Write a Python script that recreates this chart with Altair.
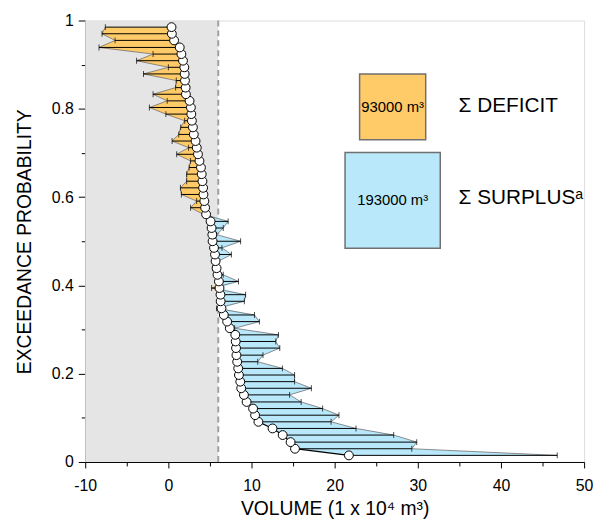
import altair as alt
import pandas as pd

# ---- data ----
# exceedance probability of each ranked event (top to bottom)
prob = [0.985, 0.970, 0.955, 0.939, 0.924, 0.909, 0.894, 0.879, 0.864, 0.848,
        0.833, 0.818, 0.803, 0.788, 0.773, 0.758, 0.742, 0.727, 0.712, 0.697,
        0.682, 0.667, 0.652, 0.636, 0.621, 0.606, 0.591, 0.576, 0.561, 0.545,
        0.530, 0.515, 0.500, 0.485, 0.470, 0.455, 0.439, 0.424, 0.409, 0.394,
        0.379, 0.364, 0.348, 0.333, 0.318, 0.303, 0.288, 0.273, 0.258, 0.242,
        0.227, 0.212, 0.197, 0.182, 0.167, 0.152, 0.136, 0.121, 0.106, 0.091,
        0.076, 0.061, 0.045, 0.030, 0.015]
# volume at the circles (1 x 10^4 m3)
circle_vol = [0.38, 0.42, 0.69, 1.37, 1.57, 1.76, 1.92, 1.96, 2.00, 2.08,
              2.11, 2.55, 2.71, 2.76, 2.83, 2.95, 3.06, 3.27, 3.42, 3.56,
              3.74, 3.92, 4.01, 4.10, 4.18, 4.22, 4.33, 4.42, 4.54, 5.08,
              5.20, 5.29, 5.32, 5.49, 5.61, 5.68, 5.80, 5.91, 6.08, 6.15,
              6.27, 6.29, 6.39, 6.67, 7.07, 7.39, 8.05, 8.10, 8.14, 8.19,
              8.28, 8.40, 8.49, 8.65, 8.76, 9.09, 9.41, 10.19, 10.43, 10.83,
              12.53, 13.75, 14.70, 15.23, 21.71]
# volume at the end of each horizontal bar
end_vol = [-7.58, -7.98, -6.41, -8.34, -1.84, -3.82, 0.00, -2.99, 0.95, 0.87,
           -1.84, -0.14, -2.28, -0.30, 1.96, 1.48, 1.25, 0.45, 2.43, 1.00,
           2.67, 2.50, 2.20, 2.20, 1.45, 1.57, 3.40, 2.67, 4.20, 7.19,
           6.60, 5.80, 8.69, 6.45, 7.58, 6.05, 5.32, 6.60, 8.43, 5.20,
           9.29, 9.14, 5.80, 10.36, 10.95, 7.98, 13.24, 12.92, 13.40, 11.38,
           10.75, 13.72, 15.18, 15.18, 17.20, 14.58, 15.97, 18.55, 20.52, 19.57,
           22.57, 27.10, 29.87, 29.28, 46.77]

shade_from, shade_to = -10, 6      # grey band and dashed threshold
deficit_label = "93000 m³"
surplus_label = "193000 m³"

df = pd.DataFrame({"p": prob, "v": circle_vol, "e": end_vol})
df["lo"] = df[["v", "e"]].min(axis=1)
df["hi"] = df[["v", "e"]].max(axis=1)
df = df.sort_values("p").reset_index(drop=True)

FONT = "Liberation Sans"
ORANGE = "#FFCA68"
BLUE = "#B8E8FA"

xscale = alt.Scale(domain=[-10, 50], nice=False, zero=False)
yscale = alt.Scale(domain=[0, 1], nice=False)

x_axis = alt.Axis(
    values=[-10, -5, 0, 5, 10, 15, 20, 25, 30, 35, 40, 45, 50],
    labelExpr="datum.value % 10 === 0 ? '' + datum.value : ''",
    tickSize={"condition": {"test": "datum.value % 10 === 0", "value": 6}, "value": 4},
    title="VOLUME (1 x 10⁴ m³)", grid=False,
    labelFontSize=16, titleFontSize=19.5, titleFontWeight="normal",
    labelFont=FONT, titleFont=FONT, labelColor="black", titleColor="black",
    domainColor="black", tickColor="black", labelPadding=10, titlePadding=6,
    labelFlush=False,
)
y_axis = alt.Axis(
    values=[0, 0.1, 0.2, 0.3, 0.4, 0.5, 0.6, 0.7, 0.8, 0.9, 1],
    format="~g",
    labelExpr="round(datum.value*10) % 2 === 0 ? datum.label : ''",
    tickSize={"condition": {"test": "round(datum.value*10) % 2 === 0", "value": 7}, "value": 4},
    title="EXCEEDANCE PROBABILITY", grid=False,
    labelFontSize=16, titleFontSize=19.5, titleFontWeight="normal",
    labelFont=FONT, titleFont=FONT, labelColor="black", titleColor="black",
    domainColor="black", tickColor="black", labelPadding=5, titlePadding=17,
    labelFlush=False,
)

band = alt.Chart(pd.DataFrame({"a": [shade_from], "b": [shade_to]})).mark_rect(
    color="#E5E5E5").encode(
    x=alt.X("a:Q", scale=xscale, axis=x_axis), x2="b:Q",
    y=alt.value(0), y2=alt.value(446))

dash = alt.Chart(pd.DataFrame({"a": [shade_to]})).mark_rule(
    color="#A0A0A0", strokeWidth=2, strokeDash=[6, 4]).encode(
    x=alt.X("a:Q", scale=xscale), y=alt.value(0), y2=alt.value(446))

base = alt.Chart(df)

deficit = base.mark_area(orient="horizontal", color=ORANGE).encode(
    y=alt.Y("p:Q", scale=yscale, axis=y_axis),
    x=alt.X("lo:Q", scale=xscale, stack=None), x2="v:Q")
surplus = base.mark_area(orient="horizontal", color=BLUE).encode(
    y=alt.Y("p:Q", scale=yscale),
    x=alt.X("v:Q", scale=xscale, stack=None), x2="hi:Q")
edge = base.mark_line(color="#707070", strokeWidth=0.8).encode(
    y=alt.Y("p:Q", scale=yscale), x=alt.X("e:Q", scale=xscale), order="p:Q")
bars = base.mark_rule(color="black", strokeWidth=1).encode(
    y=alt.Y("p:Q", scale=yscale), x=alt.X("v:Q", scale=xscale), x2="e:Q")
caps = base.mark_tick(color="black", orient="vertical", size=6, thickness=1).encode(
    y=alt.Y("p:Q", scale=yscale), x=alt.X("e:Q", scale=xscale))
link = base.mark_line(color="black", strokeWidth=1.3).encode(
    y=alt.Y("p:Q", scale=yscale), x=alt.X("v:Q", scale=xscale), order="p:Q")
dots = base.mark_point(shape="circle", filled=True, fill="white", stroke="black",
                       strokeWidth=1, size=80, opacity=1).encode(
    y=alt.Y("p:Q", scale=yscale), x=alt.X("v:Q", scale=xscale))

# key boxes (areas proportional to the sums)
boxes_df = pd.DataFrame({
    "x": [23.0, 21.25], "x2": [30.95, 32.7],
    "y": [0.879, 0.701], "y2": [0.730, 0.484],
    "c": [ORANGE, BLUE]})
boxes = alt.Chart(boxes_df).mark_rect(stroke="#707070", strokeWidth=1.5).encode(
    x=alt.X("x:Q", scale=xscale), x2="x2:Q",
    y=alt.Y("y:Q", scale=yscale), y2="y2:Q",
    fill=alt.Fill("c:N", scale=None))

inner_df = pd.DataFrame({"x": [26.98, 26.98], "y": [0.805, 0.593],
                         "t": [deficit_label, surplus_label]})
inner = alt.Chart(inner_df).mark_text(font=FONT, fontSize=15, color="black",
                                      align="center", baseline="middle").encode(
    x=alt.X("x:Q", scale=xscale), y=alt.Y("y:Q", scale=yscale), text="t:N")

side_df = pd.DataFrame({"x": [34.9, 34.9], "y": [0.806, 0.597],
                        "t": ["Σ DEFICIT", "Σ SURPLUSᵃ"]})
side = alt.Chart(side_df).mark_text(font=FONT, fontSize=21, color="black",
                                    align="left", baseline="middle").encode(
    x=alt.X("x:Q", scale=xscale), y=alt.Y("y:Q", scale=yscale), text="t:N")

chart = alt.layer(
    band, dash, deficit, surplus, edge, bars, caps, link, dots, boxes, inner, side
).properties(
    width=504, height=446,
    autosize=alt.AutoSizeParams(type="none"),
    padding={"left": 78, "top": 10, "right": 10, "bottom": 60},
).configure_view(stroke=None).configure(background="white")

chart.save("out.html", embed_options={"renderer": "svg", "actions": False})
